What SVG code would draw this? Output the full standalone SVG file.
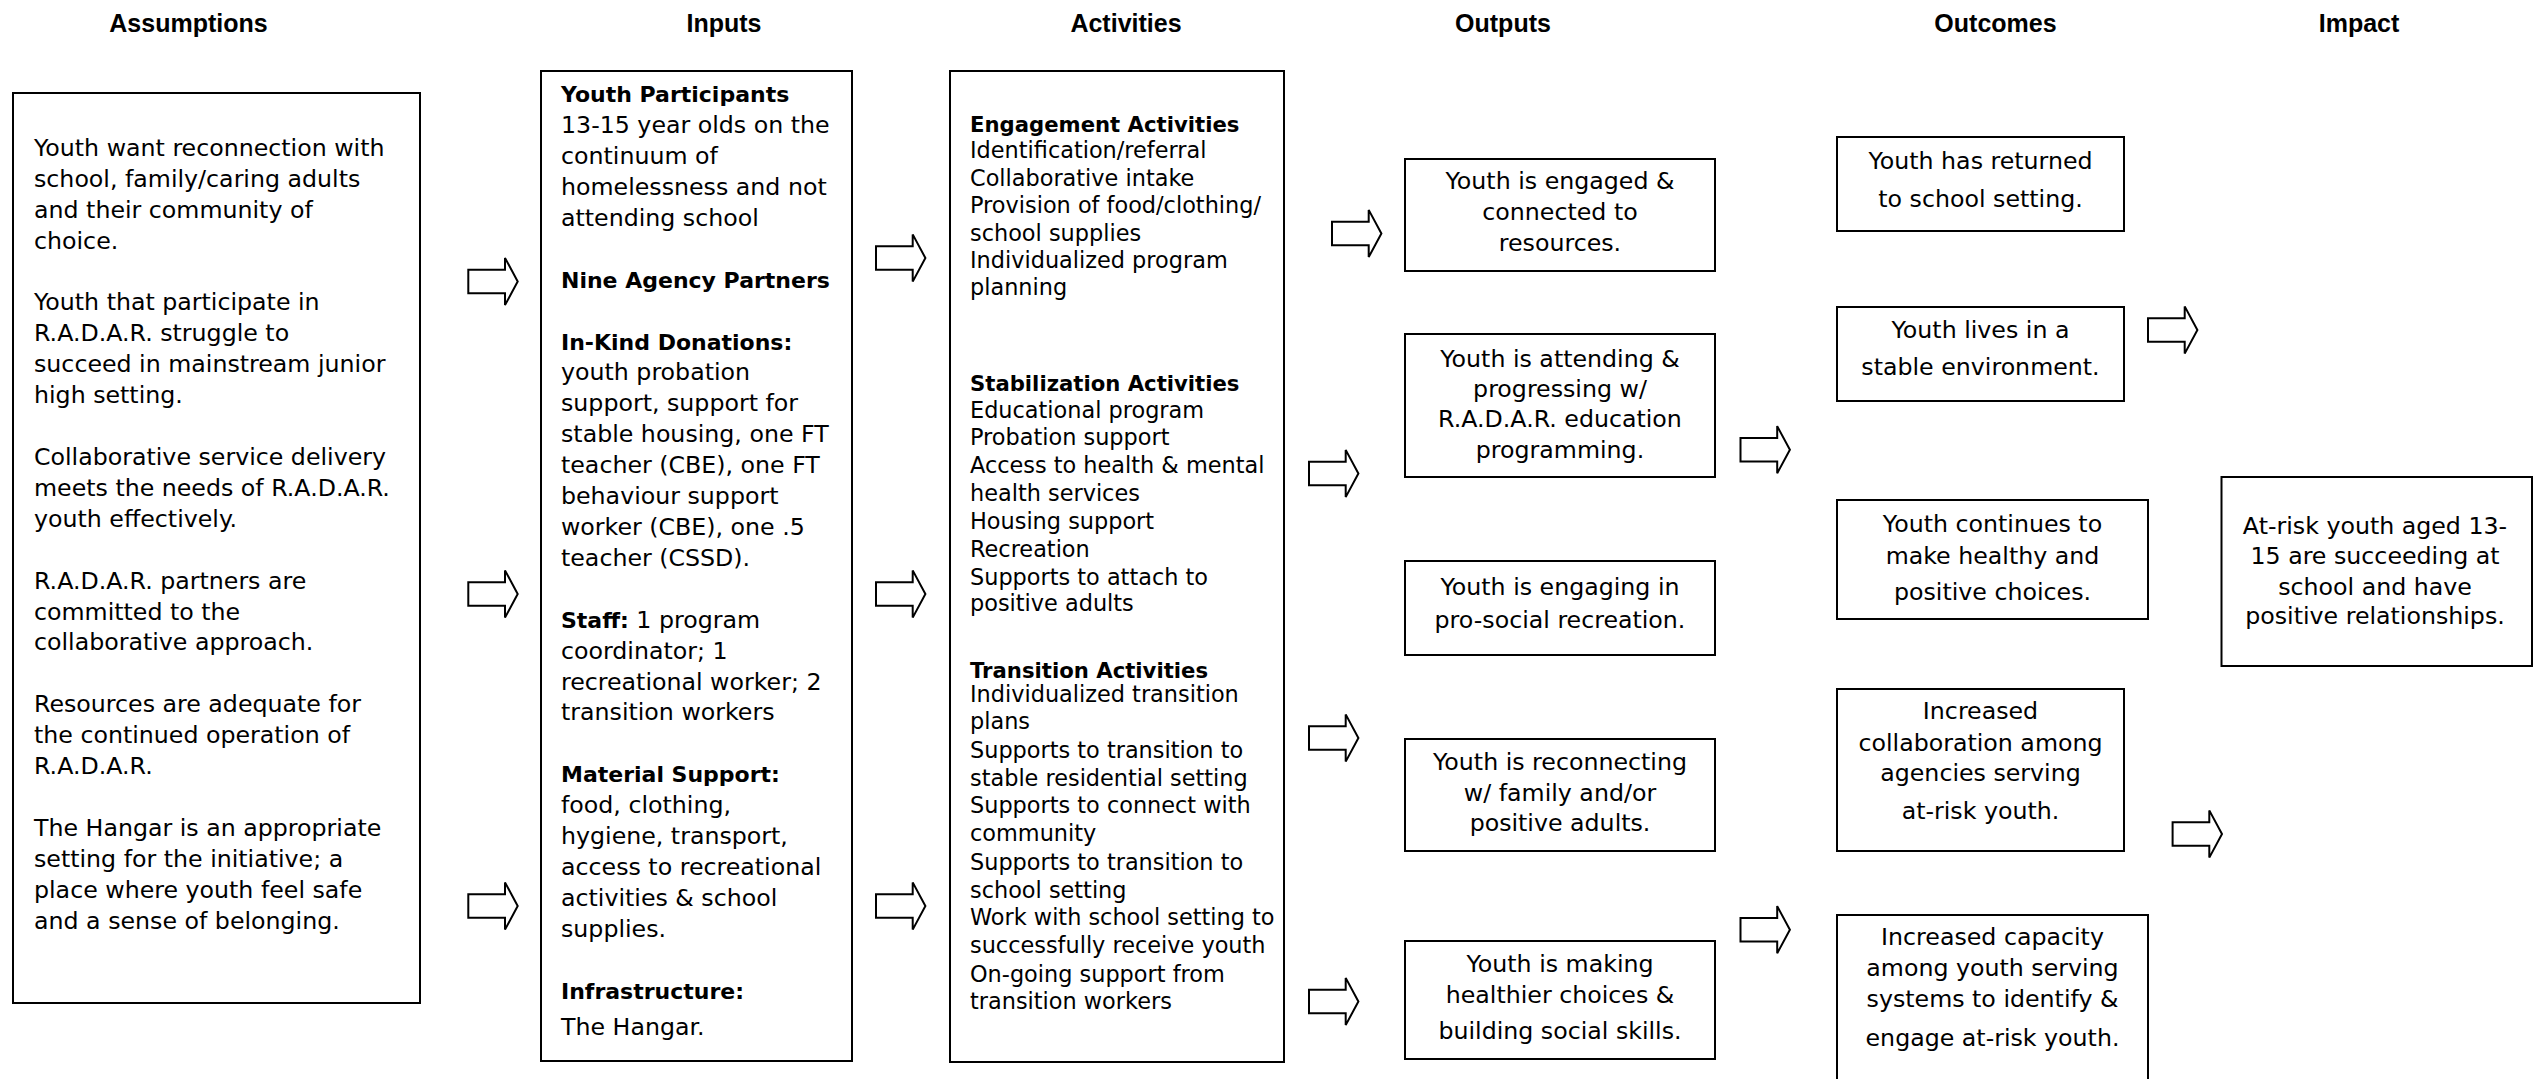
<svg xmlns="http://www.w3.org/2000/svg" xmlns:xlink="http://www.w3.org/1999/xlink" width="2545" height="1079" viewBox="0 0 2545 1079">
<style>
.box{fill:#fff;stroke:#000;stroke-width:2}
.arrow{fill:#fff;stroke:#000;stroke-width:2;stroke-linejoin:miter}
.t{font-family:"DejaVu Sans","Liberation Sans",sans-serif;font-size:23.7px;fill:#000}
.s{font-size:22.4px}
.b{font-weight:bold;font-size:22px}
.sb{font-weight:bold;font-size:21.2px}
.c{text-anchor:middle}
.title{font-family:"Liberation Sans",Arial,sans-serif;font-weight:bold;font-size:25px;text-anchor:middle;fill:#000}
</style>
<defs>
<path id="arr" class="arrow" d="M0,-11.7 H36.7 V-23.6 L49.4,0 L36.7,23.6 V11.7 H0 Z"/>
</defs>
<rect width="2545" height="1079" fill="#fff"/>

<g id="titles">
<text class="title" x="188.5" y="32">Assumptions</text>
<text class="title" x="724" y="32">Inputs</text>
<text class="title" x="1126" y="32">Activities</text>
<text class="title" x="1503" y="32">Outputs</text>
<text class="title" x="1995.5" y="32">Outcomes</text>
<text class="title" x="2359" y="32">Impact</text>
</g>

<g id="assumptions">
<rect class="box" x="13" y="93" width="407" height="910"/>
<text class="t">
<tspan x="34" y="156">Youth want reconnection with</tspan>
<tspan x="34" y="187">school, family/caring adults</tspan>
<tspan x="34" y="218">and their community of</tspan>
<tspan x="34" y="249">choice.</tspan>
<tspan x="34" y="310">Youth that participate in</tspan>
<tspan x="34" y="341">R.A.D.A.R. struggle to</tspan>
<tspan x="34" y="372">succeed in mainstream junior</tspan>
<tspan x="34" y="403">high setting.</tspan>
<tspan x="34" y="465">Collaborative service delivery</tspan>
<tspan x="34" y="496">meets the needs of R.A.D.A.R.</tspan>
<tspan x="34" y="527">youth effectively.</tspan>
<tspan x="34" y="589">R.A.D.A.R. partners are</tspan>
<tspan x="34" y="620">committed to the</tspan>
<tspan x="34" y="650">collaborative approach.</tspan>
<tspan x="34" y="712">Resources are adequate for</tspan>
<tspan x="34" y="743">the continued operation of</tspan>
<tspan x="34" y="774">R.A.D.A.R.</tspan>
<tspan x="34" y="836">The Hangar is an appropriate</tspan>
<tspan x="34" y="867">setting for the initiative; a</tspan>
<tspan x="34" y="898">place where youth feel safe</tspan>
<tspan x="34" y="929">and a sense of belonging.</tspan>
</text>
</g>

<g id="inputs">
<rect class="box" x="541" y="71" width="311" height="990"/>
<text class="t">
<tspan class="b" x="561" y="102">Youth Participants</tspan>
<tspan x="561" y="133">13-15 year olds on the</tspan>
<tspan x="561" y="164">continuum of</tspan>
<tspan x="561" y="195">homelessness and not</tspan>
<tspan x="561" y="226">attending school</tspan>
<tspan class="b" x="561" y="288">Nine Agency Partners</tspan>
<tspan class="b" x="561" y="350">In-Kind Donations:</tspan>
<tspan x="561" y="380">youth probation</tspan>
<tspan x="561" y="411">support, support for</tspan>
<tspan x="561" y="442">stable housing, one FT</tspan>
<tspan x="561" y="473">teacher (CBE), one FT</tspan>
<tspan x="561" y="504">behaviour support</tspan>
<tspan x="561" y="535">worker (CBE), one .5</tspan>
<tspan x="561" y="566">teacher (CSSD).</tspan>
<tspan class="b" x="561" y="628">Staff:</tspan><tspan> 1 program</tspan>
<tspan x="561" y="659">coordinator; 1</tspan>
<tspan x="561" y="690">recreational worker; 2</tspan>
<tspan x="561" y="720">transition workers</tspan>
<tspan class="b" x="561" y="782">Material Support:</tspan>
<tspan x="561" y="813">food, clothing,</tspan>
<tspan x="561" y="844">hygiene, transport,</tspan>
<tspan x="561" y="875">access to recreational</tspan>
<tspan x="561" y="906">activities &amp; school</tspan>
<tspan x="561" y="937">supplies.</tspan>
<tspan class="b" x="561" y="999">Infrastructure:</tspan>
<tspan x="561" y="1035">The Hangar.</tspan>
</text>
</g>

<g id="activities">
<rect class="box" x="950" y="71" width="334" height="991"/>
<text class="t s">
<tspan class="sb" x="970" y="131.5">Engagement Activities</tspan>
<tspan x="970" y="158.3">Identification/referral</tspan>
<tspan x="970" y="186">Collaborative intake</tspan>
<tspan x="970" y="213.3">Provision of food/clothing/</tspan>
<tspan x="970" y="241">school supplies</tspan>
<tspan x="970" y="268.3">Individualized program</tspan>
<tspan x="970" y="295">planning</tspan>
<tspan class="sb" x="970" y="390.5">Stabilization Activities</tspan>
<tspan x="970" y="417.5">Educational program</tspan>
<tspan x="970" y="445">Probation support</tspan>
<tspan x="970" y="473">Access to health &amp; mental</tspan>
<tspan x="970" y="501">health services</tspan>
<tspan x="970" y="529">Housing support</tspan>
<tspan x="970" y="557">Recreation</tspan>
<tspan x="970" y="585">Supports to attach to</tspan>
<tspan x="970" y="611">positive adults</tspan>
<tspan class="sb" x="970" y="677.5">Transition Activities</tspan>
<tspan x="970" y="702">Individualized transition</tspan>
<tspan x="970" y="729">plans</tspan>
<tspan x="970" y="758">Supports to transition to</tspan>
<tspan x="970" y="786">stable residential setting</tspan>
<tspan x="970" y="813">Supports to connect with</tspan>
<tspan x="970" y="841">community</tspan>
<tspan x="970" y="870">Supports to transition to</tspan>
<tspan x="970" y="897.5">school setting</tspan>
<tspan x="970" y="925">Work with school setting to</tspan>
<tspan x="970" y="952.5">successfully receive youth</tspan>
<tspan x="970" y="982">On-going support from</tspan>
<tspan x="970" y="1009">transition workers</tspan>
</text>
</g>

<g id="output1">
<rect class="box" x="1405" y="159" width="310" height="112"/>
<text class="t c"><tspan x="1560" y="189">Youth is engaged &amp;</tspan><tspan x="1560" y="220">connected to</tspan><tspan x="1560" y="251">resources.</tspan></text>
</g>
<g id="output2">
<rect class="box" x="1405" y="334" width="310" height="143"/>
<text class="t c"><tspan x="1560" y="367">Youth is attending &amp;</tspan><tspan x="1560" y="397">progressing w/</tspan><tspan x="1560" y="427">R.A.D.A.R. education</tspan><tspan x="1560" y="458">programming.</tspan></text>
</g>
<g id="output3">
<rect class="box" x="1405" y="561" width="310" height="94"/>
<text class="t c"><tspan x="1560" y="595">Youth is engaging in</tspan><tspan x="1560" y="628">pro-social recreation.</tspan></text>
</g>
<g id="output4">
<rect class="box" x="1405" y="739" width="310" height="112"/>
<text class="t c"><tspan x="1560" y="770">Youth is reconnecting</tspan><tspan x="1560" y="801">w/ family and/or</tspan><tspan x="1560" y="831">positive adults.</tspan></text>
</g>
<g id="output5">
<rect class="box" x="1405" y="941" width="310" height="118"/>
<text class="t c"><tspan x="1560" y="972">Youth is making</tspan><tspan x="1560" y="1003">healthier choices &amp;</tspan><tspan x="1560" y="1039">building social skills.</tspan></text>
</g>

<g id="outcome1">
<rect class="box" x="1837" y="137" width="287" height="94"/>
<text class="t c"><tspan x="1980.5" y="169">Youth has returned</tspan><tspan x="1980.5" y="207">to school setting.</tspan></text>
</g>
<g id="outcome2">
<rect class="box" x="1837" y="307" width="287" height="94"/>
<text class="t c"><tspan x="1980.5" y="337.5">Youth lives in a</tspan><tspan x="1980.5" y="375">stable environment.</tspan></text>
</g>
<g id="outcome3">
<rect class="box" x="1837" y="500" width="311" height="119"/>
<text class="t c"><tspan x="1992.5" y="532">Youth continues to</tspan><tspan x="1992.5" y="564">make healthy and</tspan><tspan x="1992.5" y="600">positive choices.</tspan></text>
</g>
<g id="outcome4">
<rect class="box" x="1837" y="689" width="287" height="162"/>
<text class="t c"><tspan x="1980.5" y="719">Increased</tspan><tspan x="1980.5" y="751">collaboration among</tspan><tspan x="1980.5" y="781">agencies serving</tspan><tspan x="1980.5" y="819">at-risk youth.</tspan></text>
</g>
<g id="outcome5">
<rect class="box" x="1837" y="915" width="311" height="180"/>
<text class="t c"><tspan x="1992.5" y="945">Increased capacity</tspan><tspan x="1992.5" y="976">among youth serving</tspan><tspan x="1992.5" y="1007">systems to identify &amp;</tspan><tspan x="1992.5" y="1046">engage at-risk youth.</tspan></text>
</g>

<g id="impact">
<rect class="box" x="2221.5" y="477" width="310.5" height="189"/>
<text class="t c"><tspan x="2375" y="534">At-risk youth aged 13-</tspan><tspan x="2375" y="564">15 are succeeding at</tspan><tspan x="2375" y="595">school and have</tspan><tspan x="2375" y="624">positive relationships.</tspan></text>
</g>

<g id="connectors">
<use xlink:href="#arr" x="468.3" y="281.5"/>
<use xlink:href="#arr" x="468.3" y="594"/>
<use xlink:href="#arr" x="468.3" y="906"/>
<use xlink:href="#arr" x="876" y="258"/>
<use xlink:href="#arr" x="876" y="594"/>
<use xlink:href="#arr" x="876" y="906"/>
<use xlink:href="#arr" x="1332" y="233.5"/>
<use xlink:href="#arr" x="1309" y="473.5"/>
<use xlink:href="#arr" x="1309" y="738"/>
<use xlink:href="#arr" x="1309" y="1001.5"/>
<use xlink:href="#arr" x="1740.5" y="449.7"/>
<use xlink:href="#arr" x="1740.5" y="929.7"/>
<use xlink:href="#arr" x="2148" y="330"/>
<use xlink:href="#arr" x="2172.6" y="834"/>
</g>
</svg>
